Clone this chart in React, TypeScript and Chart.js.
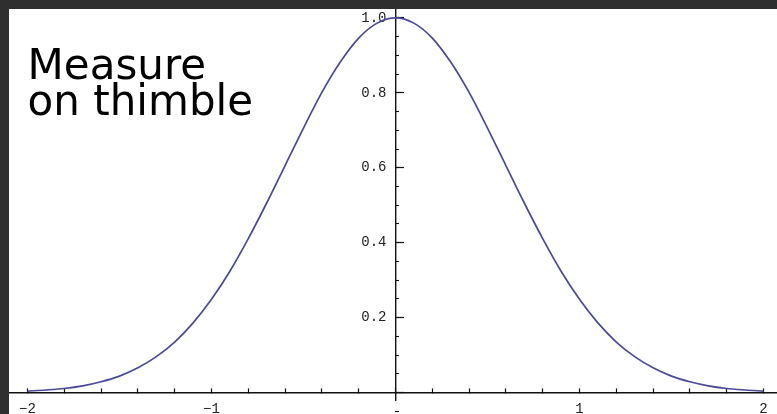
import { useEffect, useRef } from 'react';
import { Chart, registerables } from 'chart.js';

Chart.register(...registerables);

// Bell curve samples, x from -2 to 2 in steps of 0.1
const xValues = [
  -2.0, -1.9, -1.8, -1.7, -1.6, -1.5, -1.4, -1.3, -1.2, -1.1,
  -1.0, -0.9, -0.8, -0.7, -0.6, -0.5, -0.4, -0.3, -0.2, -0.1,
  0.0,
  0.1, 0.2, 0.3, 0.4, 0.5, 0.6, 0.7, 0.8, 0.9, 1.0,
  1.1, 1.2, 1.3, 1.4, 1.5, 1.6, 1.7, 1.8, 1.9, 2.0,
];
const yValues = [
  0.004, 0.007, 0.011, 0.018, 0.029, 0.044, 0.066, 0.096, 0.135, 0.186,
  0.249, 0.324, 0.411, 0.506, 0.606, 0.706, 0.801, 0.882, 0.946, 0.986,
  1.0,
  0.986, 0.946, 0.882, 0.801, 0.706, 0.606, 0.506, 0.411, 0.324, 0.249,
  0.186, 0.135, 0.096, 0.066, 0.044, 0.029, 0.018, 0.011, 0.007, 0.004,
];

const xTickValues = [-2, -1, 1, 2];
const xTickLabels = ['\u22122', '\u22121', '1', '2'];
const yTickValues = [0.2, 0.4, 0.6, 0.8, 1.0];
const yTickLabels = ['0.2', '0.4', '0.6', '0.8', '1.0'];

const noteLines = ['Measure', 'on thimble'];

const X_MIN = -2.1005;
const X_MAX = 2.0734;
const Y_MIN = -0.0571;
const Y_MAX = 1.0237;
// vertical axis labels sit a few pixels left of the axis line
const Y_LABEL_COLUMN = -0.049;
// the vertical axis line stops a little below the horizontal one
const Y_AXIS_END = -0.02;

const AXIS_COLOR = '#111111';
const LABEL_COLOR = '#222222';
const TICK_FONT = { family: '"Liberation Mono", "DejaVu Sans Mono", monospace', size: 14 };

function labelFor(v: number, values: number[], labels: string[]): string {
  for (let i = 0; i < values.length; i++) {
    if (Math.abs(v - values[i]) < 1e-6) return labels[i];
  }
  return '';
}

// Scales are positioned inside the plot, so they take no room in the layout.
function collapseHeight(s: any) {
  s.height = 0;
  s.paddingTop = 0;
  s.paddingBottom = 0;
  s.paddingLeft = 0;
  s.paddingRight = 0;
}
function collapseWidth(s: any) {
  s.width = 0;
  s.paddingTop = 0;
  s.paddingBottom = 0;
  s.paddingLeft = 0;
  s.paddingRight = 0;
}

const axisEndPlugin = {
  id: 'axisEnd',
  afterLayout(chart: Chart) {
    const s: any = chart.scales.y;
    if (s) s.bottom = s.getPixelForValue(Y_AXIS_END);
  },
};

const notePlugin = {
  id: 'note',
  afterDraw(chart: Chart) {
    const ctx = chart.ctx;
    ctx.save();
    ctx.fillStyle = '#000000';
    ctx.font = '42px "DejaVu Sans", sans-serif';
    ctx.textAlign = 'left';
    ctx.textBaseline = 'alphabetic';
    ctx.fillText(noteLines[0], 18.6, 70);
    ctx.fillText(noteLines[1], 18.6, 105.5);
    ctx.restore();
  },
};

export default function App() {
  const canvasRef = useRef<HTMLCanvasElement | null>(null);

  useEffect(() => {
    const canvas = canvasRef.current;
    if (!canvas) return;
    const points = xValues.map((x, i) => ({ x, y: yValues[i] }));

    const chart = new Chart(canvas, {
      type: 'line',
      data: {
        datasets: [
          {
            data: points,
            borderColor: '#4a4a96',
            borderWidth: 1.7,
            pointRadius: 0,
            cubicInterpolationMode: 'monotone',
            fill: false,
            xAxisID: 'x',
            yAxisID: 'y',
          },
        ],
      },
      options: {
        responsive: false,
        maintainAspectRatio: false,
        animation: false,
        layout: { padding: 0 },
        plugins: { legend: { display: false }, tooltip: { enabled: false }, title: { display: false } },
        scales: {
          x: {
            type: 'linear',
            axis: 'x',
            position: { y: 0 },
            min: X_MIN,
            max: X_MAX,
            afterFit: collapseHeight,
            grid: {
              drawOnChartArea: false,
              drawTicks: true,
              tickLength: -5,
              tickColor: AXIS_COLOR,
              tickWidth: 1.2,
            },
            border: { display: true, color: AXIS_COLOR, width: 1.4 },
            ticks: {
              stepSize: 0.2,
              includeBounds: false,
              autoSkip: false,
              maxRotation: 0,
              minRotation: 0,
              padding: 13,
              color: LABEL_COLOR,
              font: TICK_FONT,
              callback: (v: any) => labelFor(Number(v), xTickValues, xTickLabels),
            },
          },
          y: {
            type: 'linear',
            axis: 'y',
            position: { x: 0 },
            min: Y_MIN,
            max: Y_MAX,
            afterFit: collapseWidth,
            grid: {
              drawOnChartArea: false,
              drawTicks: true,
              tickLength: -9,
              tickColor: AXIS_COLOR,
              tickWidth: 1.2,
            },
            border: { display: true, color: AXIS_COLOR, width: 1.4 },
            ticks: {
              stepSize: 0.2,
              includeBounds: false,
              autoSkip: false,
              display: false,
            },
          },
          yMinor: {
            type: 'linear',
            axis: 'y',
            position: { x: 0 },
            min: Y_MIN,
            max: Y_MAX,
            afterFit: collapseWidth,
            grid: {
              drawOnChartArea: false,
              drawTicks: true,
              tickLength: -4,
              tickColor: AXIS_COLOR,
              tickWidth: 1.1,
            },
            border: { display: false },
            ticks: {
              stepSize: 0.05,
              includeBounds: false,
              autoSkip: false,
              display: false,
            },
          },
          yLabels: {
            type: 'linear',
            axis: 'y',
            position: { x: Y_LABEL_COLUMN },
            min: Y_MIN,
            max: Y_MAX,
            afterFit: collapseWidth,
            grid: { display: false, drawOnChartArea: false, drawTicks: false },
            border: { display: false },
            ticks: {
              stepSize: 0.2,
              includeBounds: false,
              autoSkip: false,
              padding: 0,
              color: LABEL_COLOR,
              font: TICK_FONT,
              callback: (v: any) => labelFor(Number(v), yTickValues, yTickLabels),
            },
          },
        },
      } as any,
      plugins: [axisEndPlugin, notePlugin],
    });

    return () => {
      chart.destroy();
    };
  }, []);

  return (
    <div style={{ position: 'fixed', left: 0, top: 0, right: 0, bottom: 0, background: '#2f2f2f', overflow: 'hidden' }}>
      <canvas
        ref={canvasRef}
        width={768}
        height={405}
        style={{ position: 'absolute', left: 9, top: 9, width: 768, height: 405, background: '#ffffff' }}
      />
    </div>
  );
}
